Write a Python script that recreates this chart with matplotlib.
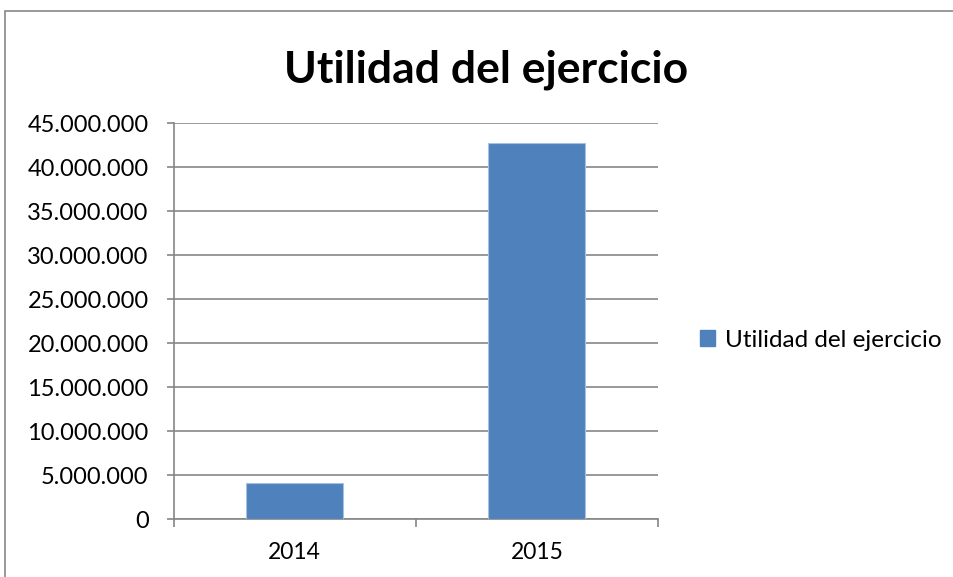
import matplotlib
matplotlib.use("Agg")
import matplotlib.pyplot as plt
from matplotlib.patches import Rectangle, Patch
from matplotlib.ticker import FuncFormatter, MultipleLocator

years = ["2014", "2015"]
utilidad = [4110000, 42700000]
series_name = "Utilidad del ejercicio"

BAR = "#4F81BD"
GRID = "#868686"

plt.rcParams["font.family"] = ["Lato", "DejaVu Sans"]

fig = plt.figure(figsize=(9.54, 5.77), dpi=100)
ax = fig.add_axes([0.1819, 0.0997, 0.5078, 0.687])

x = range(len(years))
ax.bar(x, utilidad, width=0.4, color=BAR, edgecolor="#A7C0DE", linewidth=0.8, zorder=3)

ax.set_xlim(-0.5, 1.5)
ax.set_ylim(0, 45000000)
ax.yaxis.set_major_locator(MultipleLocator(5000000))
ax.yaxis.set_major_formatter(FuncFormatter(lambda v, p: f"{int(v):,}".replace(",", ".")))
ax.grid(axis="y", color=GRID, linewidth=1.2, zorder=0)

# category labels centered, tick marks at category boundaries
ax.set_xticks([-0.5, 0.5, 1.5])
ax.set_xticklabels([])
ax.set_xticks(list(x), minor=True)
ax.set_xticklabels(years, minor=True)
ax.tick_params(axis="x", which="minor", length=0, pad=16, labelsize=16.5)
ax.tick_params(axis="x", which="major", length=6, width=1.2, color=GRID)
ax.tick_params(axis="y", length=5, width=1.2, color=GRID, labelsize=17, pad=13)

for side in ["top", "right"]:
    ax.spines[side].set_visible(False)
for side in ["left", "bottom"]:
    ax.spines[side].set_color(GRID)
    ax.spines[side].set_linewidth(1.2)

fig.text(486 / 954, 1 - 82 / 577, series_name, ha="center", va="baseline",
         fontsize=32, fontweight="bold")

fig.legend(handles=[Patch(color=BAR)], labels=[series_name],
           loc="center left", bbox_to_anchor=(0.734, 0.41), frameon=False,
           fontsize=17.5, handlelength=0.62, handleheight=0.62,
           handletextpad=0.4, borderpad=0, borderaxespad=0)

# chart frame (cropped at right and bottom)
fig.patches.append(Rectangle((5 / 954, -0.1), 1.2, 1 - 11 / 577 + 0.1,
                             transform=fig.transFigure, fill=False,
                             edgecolor="#878787", linewidth=1.2))

fig.savefig("out.png", dpi=100)
